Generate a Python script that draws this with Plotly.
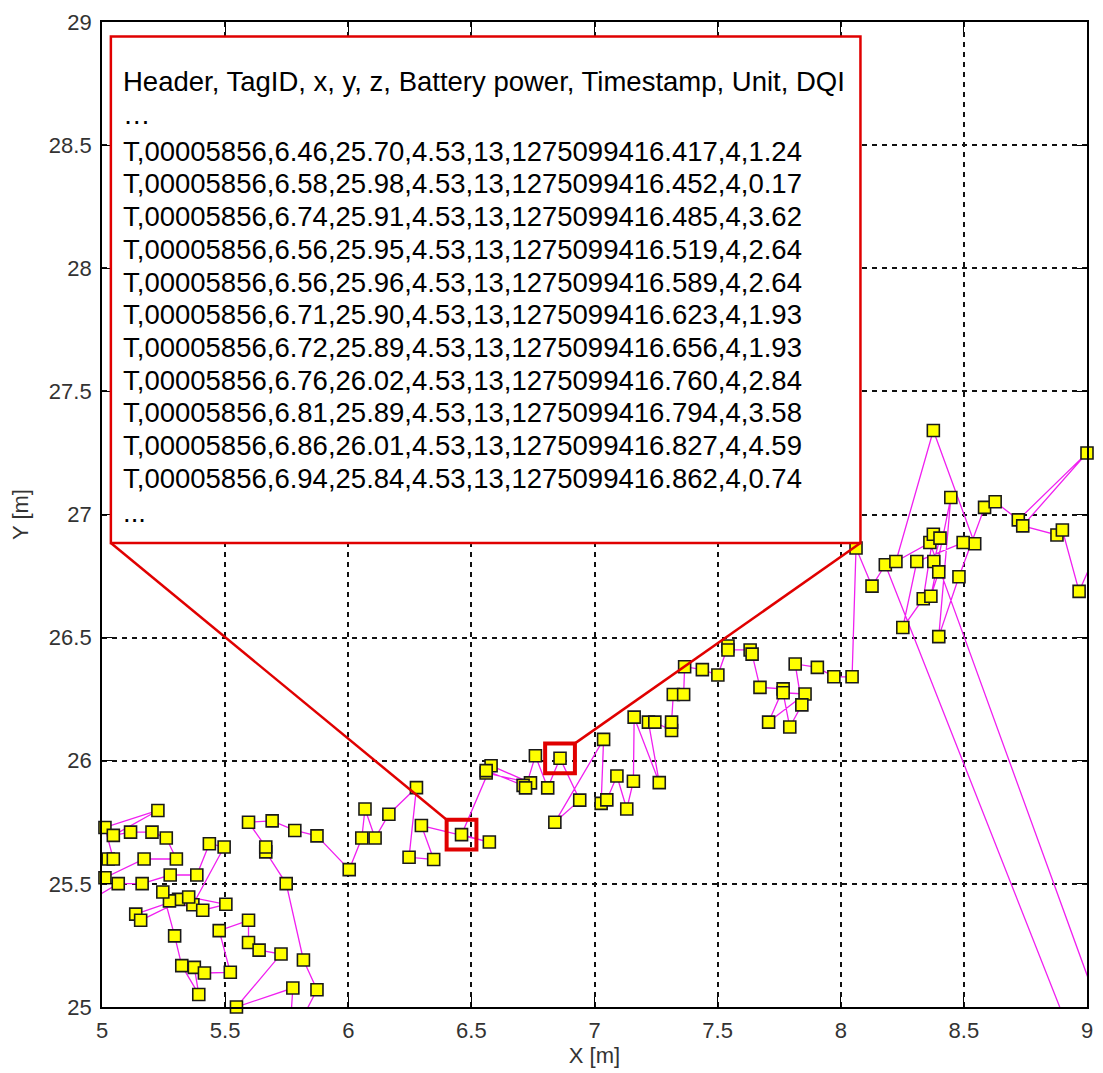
import numpy as np
import plotly.graph_objects as go

# ---------------- data ----------------
# highlighted raw records (shown in the call-out)
hl_x = [6.46, 6.58, 6.74, 6.56, 6.56, 6.71, 6.72, 6.76, 6.81, 6.86, 6.94]
hl_y = [25.70, 25.98, 25.91, 25.95, 25.96, 25.90, 25.89, 26.02, 25.89, 26.01, 25.84]
hl_ts = ["1275099416.417", "1275099416.452", "1275099416.485", "1275099416.519",
         "1275099416.589", "1275099416.623", "1275099416.656", "1275099416.760",
         "1275099416.794", "1275099416.827", "1275099416.862"]
hl_dqi = [1.24, 0.17, 3.62, 2.64, 2.64, 1.93, 1.93, 2.84, 3.58, 4.59, 0.74]
tag_id = "00005856"
z_val = 4.53
battery = 13
unit = 4
header_text = "Header, TagID, x, y, z, Battery power, Timestamp, Unit, DQI"

# track before the highlighted records
pre_x = [5.025, 5.046, 5.012, 5.227, 5.046, 5.116, 5.203, 5.261, 5.302, 5.171, 5.012, 4.93,
         5.066, 5.163, 5.277, 5.385, 5.436, 5.496, 5.369, 5.311, 5.137, 5.157, 5.352, 5.503,
         5.409, 5.274, 5.247, 5.295, 5.324, 5.393, 5.375, 5.416, 5.521, 5.476, 5.595, 5.595,
         5.638, 5.727, 5.546, 5.775, 5.76, 5.873, 5.818, 5.748, 5.665, 5.665, 5.595, 5.691,
         5.783, 5.873, 6.004, 6.055, 6.068, 6.109, 6.165, 6.277, 6.247, 6.347, 6.297, 6.573]
pre_y = [25.601, 25.601, 25.729, 25.798, 25.697, 25.710, 25.710, 25.686, 25.601, 25.601, 25.525, 25.42,
         25.501, 25.501, 25.536, 25.536, 25.663, 25.650, 25.415, 25.437, 25.377, 25.352, 25.447, 25.417,
         25.393, 25.431, 25.467, 25.289, 25.168, 25.051, 25.161, 25.138, 25.141, 25.310, 25.352, 25.262,
         25.231, 25.215, 25.000, 25.077, 24.85, 25.070, 25.191, 25.501, 25.630, 25.650, 25.750, 25.756,
         25.717, 25.695, 25.558, 25.686, 25.804, 25.686, 25.783, 25.891, 25.608, 25.599, 25.737, 25.670]

# track after the highlighted records
post_x = [6.839, 7.037, 7.027, 7.050, 7.091, 7.131, 7.158, 7.161, 7.263, 7.219, 7.245, 7.313,
          7.313, 7.320, 7.362, 7.366, 7.438, 7.501, 7.542, 7.542, 7.632, 7.640, 7.672, 7.766,
          7.707, 7.855, 7.766, 7.793, 7.842, 7.815, 7.905, 7.972, 8.046,
          8.062, 8.127, 8.181, 10.9, 8.362, 8.224, 8.376, 8.544, 8.497, 8.309, 8.252, 8.335,
          8.376, 8.403, 8.378, 8.398, 8.366, 8.447, 8.398, 8.480, 8.584, 8.627, 8.721, 9.0,
          8.739, 8.878, 8.900, 8.968, 9.07]
post_y = [25.750, 26.087, 25.827, 25.841, 25.938, 25.804, 25.917, 26.177, 25.911, 26.157, 26.157, 26.123,
          26.157, 26.269, 26.269, 26.382, 26.370, 26.348, 26.466, 26.450, 26.450, 26.433, 26.298, 26.292,
          26.157, 26.271, 26.276, 26.137, 26.227, 26.393, 26.379, 26.341, 26.341,
          26.864, 26.709, 26.796, 19.9, 26.886, 26.809, 27.341, 26.881, 26.886, 26.809, 26.541, 26.658,
          26.920, 26.904, 26.809, 26.767, 26.668, 27.069, 26.504, 26.747, 27.029, 27.052, 26.978, 27.25,
          26.954, 26.917, 26.937, 26.688, 26.92]

x_ticks = [5, 5.5, 6, 6.5, 7, 7.5, 8, 8.5, 9]
y_ticks = [25, 25.5, 26, 26.5, 27, 27.5, 28, 28.5, 29]

# ---------------- figure ----------------
track_x = np.array(pre_x + hl_x + post_x)
track_y = np.array(pre_y + hl_y + post_y)
inside = (track_x >= 4.999) & (track_x <= 9.001) & (track_y >= 24.999) & (track_y <= 29.001)

FONT = "Liberation Sans, Arial, sans-serif"

fig = go.Figure()
fig.add_trace(go.Scatter(x=track_x, y=track_y, mode="lines",
                         line=dict(color="#f020f0", width=1.3), hoverinfo="skip",
                         showlegend=False))
fig.add_trace(go.Scatter(x=track_x[inside], y=track_y[inside], mode="markers",
                         marker=dict(symbol="square", size=12, color="#ffff00",
                                     line=dict(color="#1a1a1a", width=1.6)),
                         cliponaxis=False, showlegend=False))

# call-out box geometry (data units)
box_x0, box_x1 = 5.036, 8.08
box_y0, box_y1 = 26.884, 28.941
half = 0.0605  # half side of the small highlight squares
shapes = [
    dict(type="rect", xref="x", yref="y", x0=box_x0, x1=box_x1, y0=box_y0, y1=box_y1,
         line=dict(color="#e00000", width=2.5), fillcolor="white", layer="above"),
    dict(type="line", xref="x", yref="y", x0=box_x0, y0=box_y0,
         x1=hl_x[0] - half, y1=hl_y[0] + half, line=dict(color="#e00000", width=2.5), layer="above"),
    dict(type="line", xref="x", yref="y", x0=box_x1, y0=box_y0,
         x1=hl_x[9] + half, y1=hl_y[9] + half, line=dict(color="#e00000", width=2.5), layer="above"),
]
for i in (0, 9):
    shapes.append(dict(type="rect", xref="x", yref="y",
                       x0=hl_x[i] - half, x1=hl_x[i] + half,
                       y0=hl_y[i] - half, y1=hl_y[i] + half,
                       line=dict(color="#e00000", width=4), layer="above"))

# text lines in the call-out
lines = [header_text, "…"]
for x, y, ts, dq in zip(hl_x, hl_y, hl_ts, hl_dqi):
    lines.append(f"T,{tag_id},{x:.2f},{y:.2f},{z_val:.2f},{battery},{ts},{unit},{dq:.2f}")
lines.append("...")

px2y = lambda py: 25 + (1010 - py) / 247.75
line_centers = [79, 112] + [149 + 32.9 * k for k in range(11)] + [512]
annotations = []
for txt, pc in zip(lines, line_centers):
    annotations.append(dict(x=5.079, y=px2y(pc), xref="x", yref="y", text=txt,
                            showarrow=False, xanchor="left", yanchor="middle",
                            font=dict(family=FONT, size=27.5, color="black")))

axis_common = dict(showgrid=True, gridcolor="#111111", gridwidth=1.7, griddash="5px,5px",
                   showline=True, linecolor="black", linewidth=1.8, mirror="ticks",
                   ticks="inside", ticklen=10, tickcolor="black", tickwidth=1.2,
                   zeroline=False, tickfont=dict(family=FONT, size=22, color="#333333"))

fig.update_layout(
    width=1103, height=1073,
    margin=dict(l=102, r=10, t=19, b=63),
    paper_bgcolor="white", plot_bgcolor="white",
    shapes=shapes, annotations=annotations,
    xaxis=dict(range=[5, 9], tickvals=x_ticks, ticktext=[f"{v:g}" for v in x_ticks],
               ticklabelstandoff=3,
               title=dict(text="X [m]", font=dict(family=FONT, size=22, color="#333333"), standoff=4),
               **axis_common),
    yaxis=dict(range=[25, 29], tickvals=y_ticks, ticktext=[f"{v:g}" for v in y_ticks],
               ticklabelstandoff=4,
               title=dict(text="Y [m]", font=dict(family=FONT, size=22, color="#333333"), standoff=14),
               **axis_common),
)

fig.write_html("out.html")
